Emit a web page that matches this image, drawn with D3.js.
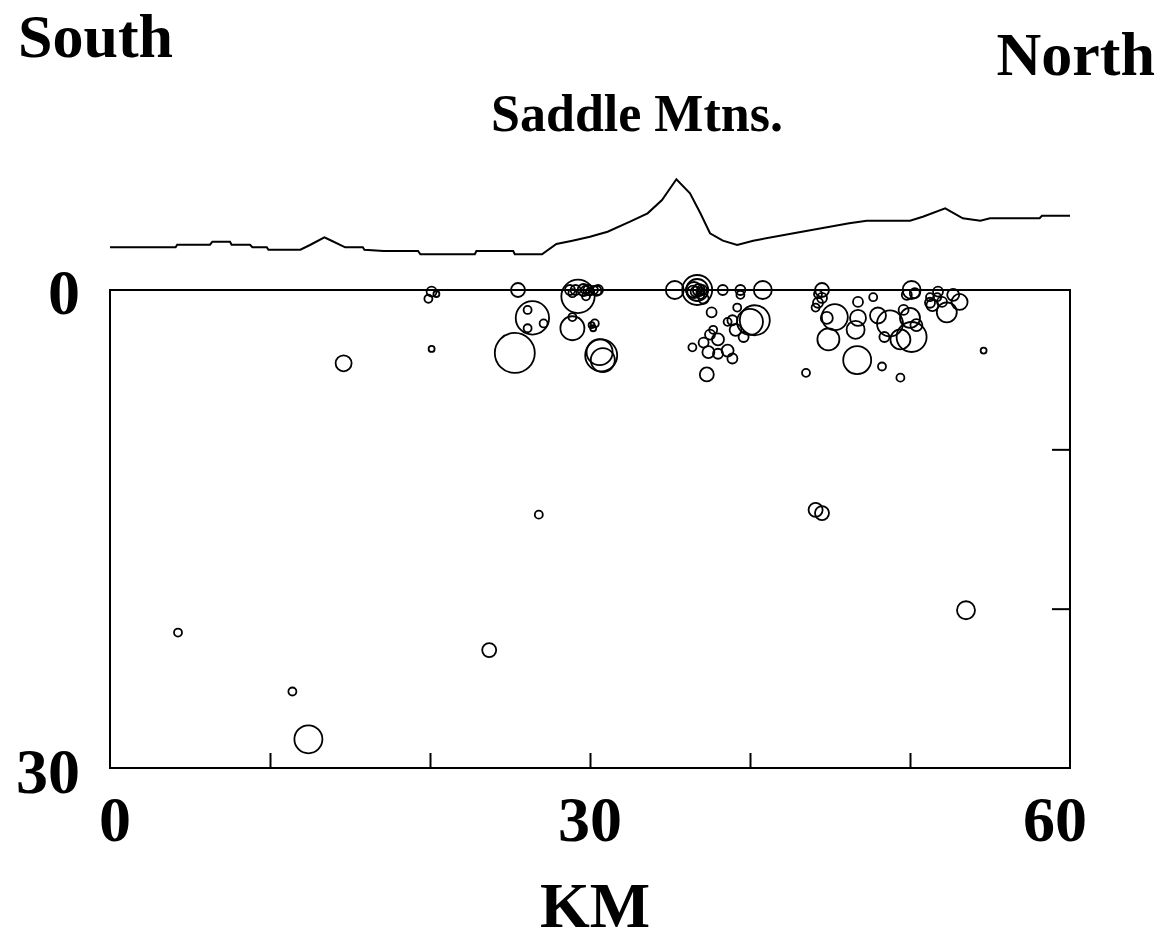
<!DOCTYPE html>
<html>
<head>
<meta charset="utf-8">
<script src="https://cdn.jsdelivr.net/npm/d3@7"></script>
<style>
  body { margin: 0; background: #fff; }
  text { font-family: "Liberation Serif", "Times New Roman", serif; font-weight: bold; fill: #000; }
</style>
</head>
<body>
<div id="chart"></div>
<script>
// Earthquake hypocentres: distance along profile (km), depth (km), magnitude
var eventKm = [
  4.25, 11.4, 12.4, 14.6, 20.1, 23.7, 26.8, 44.1, 44.5, 53.5, 54.6, 43.5, 49.4, 48.25, 46.7, 37.3,
  20.1, 19.9, 20.4,
  25.5, 26.4, 26.1, 27.1, 26.1, 25.3, 29.25, 28.75, 29.1, 29.6, 29.9, 30.25, 30.5, 29.75,
  28.9, 28.9, 30.1, 30.3, 30.2, 30.7, 30.6, 30.8,
  35.3, 36.7, 36.7, 36.5, 36.8, 36.6, 36.9, 37.1, 37.6, 38.3, 39.4, 39.4, 40.8, 40.3, 40.0,
  38.9, 38.6, 39.2, 38.0, 37.1, 36.4, 38.6, 38.0, 38.9, 37.7, 39.6, 37.5,
  44.5, 44.5, 44.25, 44.1, 44.8, 45.3, 44.9, 46.75, 46.75, 46.6, 47.7, 48.0, 48.75,
  50.1, 49.8, 50.3, 50.1, 50.0, 48.4, 49.4, 50.4, 51.75, 52.0, 51.4, 52.3, 53.1, 52.7, 51.25, 49.6,
  29.7, 30.0, 30.4, 28.9, 36.45, 37.0, 36.9, 51.25, 51.7, 44.25, 39.1, 37.4
];
var eventDepth = [
  21.5, 25.2, 28.2, 4.6, 3.7, 22.6, 14.1, 13.8, 14.0, 20.1, 3.8, 5.2, 5.5, 4.8, 4.4, 5.3,
  0.1, 0.55, 0.25,
  0.0, 1.75, 1.25, 2.1, 2.4, 3.95, 0.4, 0.0, 0.0, 0.0, 0.0, 0.0, 0.0, 0.4,
  2.4, 1.7, 2.2, 2.1, 2.4, 4.1, 3.9, 4.4,
  0.0, 0.0, 0.0, 0.0, 0.0, 0.1, 0.1, 0.55, 1.4, 0.0, 0.0, 0.3, 0.0, 1.9, 2.0,
  1.9, 2.0, 1.1, 3.1, 3.3, 3.6, 3.8, 4.0, 4.3, 2.5, 2.95, 2.8,
  0.0, 0.5, 0.8, 1.1, 1.75, 1.7, 3.1, 0.75, 1.75, 2.5, 0.45, 1.6, 2.1,
  0.0, 0.3, 0.2, 2.95, 1.75, 2.95, 3.1, 2.2, 0.1, 0.75, 0.95, 1.4, 0.75, 0.3, 0.45, 1.25,
  0.0, 0.1, 0.05, 0.2, 0.1, 0.0, 0.3, 0.8, 0.45, 0.25, 2.5, 3.9
];
var eventMag = [
  0.6, 0.6, 2.1, 1.2, 0.45, 1.05, 0.6, 1.05, 1.05, 1.35, 0.45, 0.6, 0.6, 0.6, 2.1, 1.05,
  0.75, 0.6, 0.45,
  1.05, 2.5, 0.6, 0.6, 0.6, 3.0, 2.5, 0.75, 0.75, 0.9, 0.75, 0.6, 0.75, 0.6,
  1.8, 0.6, 0.45, 0.6, 0.45, 2.4, 1.95, 1.8,
  1.35, 2.25, 1.65, 1.2, 0.9, 0.75, 0.6, 0.75, 0.75, 0.75, 0.75, 0.6, 1.35, 2.25, 1.95,
  0.75, 0.6, 0.6, 0.9, 0.75, 0.6, 0.9, 0.75, 0.75, 0.6, 0.75, 0.75,
  1.05, 0.75, 0.75, 0.6, 0.9, 1.95, 1.65, 0.75, 1.2, 1.35, 0.6, 1.2, 1.95,
  1.35, 0.75, 0.75, 2.25, 1.5, 0.75, 1.5, 0.9, 0.75, 0.75, 0.9, 1.5, 1.2, 0.9, 0.6, 0.75,
  0.6, 0.6, 0.75, 0.6, 0.9, 0.75, 0.6, 0.75, 0.6, 0.6, 0.9, 0.9
];

// Surface topography along the profile: distance (km), elevation (m)
var topoKm = [0, 4.1, 4.2, 6.25, 6.4, 7.5, 7.6, 8.75, 8.9, 9.8, 9.9, 11.9, 12.5, 13.4, 13.75, 14.7,
  15.8, 15.9, 17.1, 19.25, 19.4, 22.8, 22.9, 25.2, 25.3, 27.0, 27.9, 28.9, 30.0, 30.6, 31.1,
  32.5, 33.6, 34.5, 35.4, 36.25, 36.9, 37.5, 38.3, 39.2, 40.2, 42.9, 46.2, 47.3, 50.0, 50.8,
  52.2, 53.3, 54.4, 55.0, 58.1, 58.25, 60];
var topoElev = [427, 427, 453, 453, 483, 483, 453, 453, 427, 427, 403, 403, 450, 527, 500, 427,
  427, 403, 390, 390, 357, 357, 390, 390, 357, 357, 460, 493, 533, 560, 583,
  683, 767, 900, 1107, 967, 767, 567, 493, 450, 493, 573, 667, 693, 693, 733,
  817, 717, 693, 717, 717, 743, 743];

var xTicks = [10, 20, 30, 40, 50];
var yTicks = [10, 20];
var xLabels = [0, 30, 60];
var yLabels = [0, 30];

var w = 1162;
var h = 942;
// plot frame in pixels
var plotLeft = 110, plotRight = 1070, plotTop = 290, plotBottom = 768;

var svg = d3.select("#chart")
  .append("svg")
  .attr("width", w)
  .attr("height", h);

var xScale = d3.scaleLinear().domain([0, 60]).range([plotLeft, plotRight]);
var yScale = d3.scaleLinear().domain([0, 30]).range([plotTop, plotBottom]);
var elevScale = d3.scaleLinear().domain([0, 1000]).range([plotTop, plotTop - 100]);
var rScale = d3.scaleLinear().domain([0, 3]).range([0, 20]);

// frame
svg.append("rect")
  .attr("x", plotLeft).attr("y", plotTop)
  .attr("width", plotRight - plotLeft).attr("height", plotBottom - plotTop)
  .attr("fill", "none").attr("stroke", "#000").attr("stroke-width", 2);

// ticks along bottom pointing up
var xAxis = d3.axisTop(xScale).tickValues(xTicks).tickSize(15).tickFormat("");
var gx = svg.append("g").attr("transform", "translate(0," + plotBottom + ")").call(xAxis);
gx.select(".domain").remove();
gx.selectAll("line").attr("stroke", "#000").attr("stroke-width", 2);

// ticks on right pointing left
var yAxis = d3.axisLeft(yScale).tickValues(yTicks).tickSize(18).tickFormat("");
var gy = svg.append("g").attr("transform", "translate(" + plotRight + ",0)").call(yAxis);
gy.select(".domain").remove();
gy.selectAll("line").attr("stroke", "#000").attr("stroke-width", 2);

// topography
var topo = topoKm.map(function (k, i) { return [k, topoElev[i]]; });
var line = d3.line()
  .x(function (d) { return xScale(d[0]); })
  .y(function (d) { return elevScale(d[1]); });
svg.append("path")
  .datum(topo)
  .attr("d", line)
  .attr("fill", "none")
  .attr("stroke", "#000")
  .attr("stroke-width", 2);

// events
var events = eventKm.map(function (k, i) {
  return { km: k, depth: eventDepth[i], mag: eventMag[i] };
});
svg.selectAll("circle.quake")
  .data(events)
  .enter()
  .append("circle")
  .attr("class", "quake")
  .attr("cx", function (d) { return xScale(d.km); })
  .attr("cy", function (d) { return yScale(d.depth); })
  .attr("r", function (d) { return rScale(d.mag); })
  .attr("fill", "none")
  .attr("stroke", "#000")
  .attr("stroke-width", 1.8);

// axis labels
svg.selectAll("text.xlab")
  .data(xLabels)
  .enter()
  .append("text")
  .attr("class", "xlab")
  .attr("x", function (d, i) { return xScale(d) + (i == 0 ? 5 : i == xLabels.length - 1 ? -15 : 0); })
  .attr("y", 841)
  .attr("text-anchor", "middle")
  .attr("font-size", 64)
  .text(function (d) { return d; });

svg.selectAll("text.ylab")
  .data(yLabels)
  .enter()
  .append("text")
  .attr("class", "ylab")
  .attr("x", function (d, i) { return i == 0 ? 64 : 48; })
  .attr("y", function (d, i) { return yScale(d) + (i == 0 ? 24 : 25); })
  .attr("text-anchor", "middle")
  .attr("font-size", 64)
  .text(function (d) { return d; });

svg.append("text").attr("x", 595).attr("y", 927)
  .attr("text-anchor", "middle").attr("font-size", 64).text("KM");

svg.append("text").attr("x", 18).attr("y", 57)
  .attr("font-size", 62).text("South");

svg.append("text").attr("x", 1155).attr("y", 75)
  .attr("text-anchor", "end").attr("font-size", 62).text("North");

svg.append("text").attr("x", 637).attr("y", 131)
  .attr("text-anchor", "middle").attr("font-size", 52).text("Saddle Mtns.");
</script>
</body>
</html>
